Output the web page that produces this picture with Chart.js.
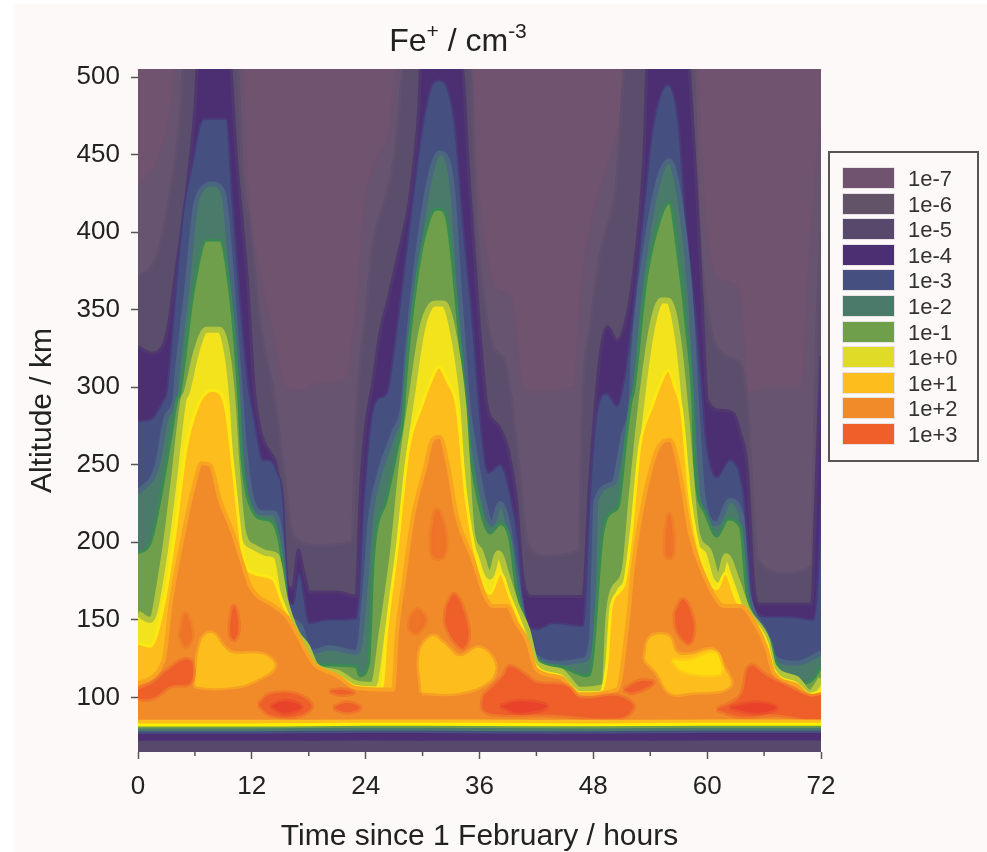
<!DOCTYPE html>
<html>
<head>
<meta charset="utf-8">
<title>Fe+ density</title>
<script src="https://cdn.jsdelivr.net/npm/chart.js@4"></script>
<style>
    html, body { margin: 0; padding: 0; background: #fff; }
    #page { position: absolute; left: 14px; top: 4px; width: 973px; height: 848px; background: #fdf9f8; }
    #wrap { position: absolute; left: 0; top: 0; width: 987px; height: 852px; font-family: "Liberation Sans", Arial, sans-serif; color: #222; }
    #plot { position: absolute; left: 0; top: 0; filter: blur(0.7px); }
    #title { position: absolute; left: 258px; width: 400px; top: 22px; text-align: center; font-size: 32px; line-height: 36px; }
    #title sup { font-size: 21px; line-height: 0; vertical-align: 13px; }
    #legend { position: absolute; left: 828px; top: 151px; width: 147px; height: 307px; border: 2px solid #555; }
    .row { position: absolute; left: 13px; width: 130px; height: 21px; }
    .row i { position: absolute; left: 0; top: 0; width: 51px; height: 20px; box-shadow: 0 0 0 1px #e9e3e6; }
    .row span { position: absolute; left: 65px; top: -2px; font-size: 22px; line-height: 25px; color: #333; }
</style>
</head>
<body>
<div id="page"></div>
<div id="wrap">
    <canvas id="plot" width="987" height="852"></canvas>
    <div id="title">Fe<sup>+</sup> / cm<sup>-3</sup></div>
    <div id="legend"></div>
</div>
<script>
const levelLabels = ["1e-7", "1e-6", "1e-5", "1e-4", "1e-3", "1e-2", "1e-1", "1e+0", "1e+1", "1e+2", "1e+3"];
const xTicks = [0, 6, 12, 18, 24, 30, 36, 42, 48, 54, 60, 66, 72];
const yTicks = [100, 150, 200, 250, 300, 350, 400, 450, 500];

// upper edge of each contour level, [hours, km]
const edge1em7 = [[0, 506], [72, 506]];
const edge1em6 = [[0, 430], [2, 445], [3.5, 480], [4.2, 520], [10.8, 520], [11.5, 430], [12.5, 382], [14, 340], [15.5, 300], [17, 298], [19, 302], [22, 305], [23, 350], [24, 420], [25, 445], [26.5, 465], [27.6, 520], [35, 520], [35.8, 430], [36.8, 382], [38, 362], [39.3, 358], [40.5, 300], [42, 297], [46, 300], [46.7, 360], [48, 412], [49.4, 440], [50.8, 470], [52, 520], [58.7, 520], [59.5, 430], [60.3, 382], [62, 368], [63.3, 362], [64.4, 296], [66.6, 300], [70, 300], [70.6, 360], [71.5, 440], [72, 470]];
const edge1em5 = [[0, 371], [2, 385], [3.4, 425], [4.4, 470], [5, 520], [10.3, 520], [11, 440], [11.8, 403], [12.9, 339], [14.3, 296], [15.3, 250], [16.3, 205], [19, 198], [22.5, 200], [23.1, 290], [24, 345], [24.8, 393], [26, 420], [27, 447], [28.4, 520], [34.8, 520], [35.7, 403], [36.4, 360], [37.5, 325], [38.6, 318], [39.4, 290], [40.3, 240], [41, 200], [43, 191], [46.5, 195], [46.8, 280], [47.7, 340], [48.7, 385], [50.4, 430], [51.6, 520], [58.4, 520], [59.1, 410], [60, 350], [62, 320], [63.5, 315], [64.2, 290], [64.8, 230], [65.3, 190], [68, 180], [71, 185], [71.5, 330], [72, 400]];
const edge1em4 = [[0, 326], [1.5, 322], [2.7, 328], [3.2, 340], [3.9, 371], [5.1, 425], [6, 480], [6.4, 520], [9.5, 520], [10.4, 446], [11.5, 371], [12.3, 296], [13, 270], [13.9, 258], [14.6, 249], [15.2, 215], [15.8, 172], [16.3, 170], [16.9, 195], [17.5, 180], [18.1, 168], [21, 168], [23, 165], [23.4, 227], [23.9, 270], [24.8, 305], [25.5, 335], [26.3, 355], [27.3, 382], [28.7, 425], [29.6, 480], [29.9, 520], [33.9, 520], [35, 425], [36, 339], [36.8, 288], [38, 275], [39, 260], [39.9, 227], [40.6, 176], [41.5, 165], [46.9, 165], [47.6, 238], [48.7, 320], [49.5, 339], [50.5, 330], [51.3, 340], [52.2, 371], [53.3, 446], [53.8, 520], [57.7, 520], [58.9, 425], [59.6, 339], [60, 292], [61.5, 285], [62.8, 283], [63.5, 270], [64.2, 249], [64.9, 174], [65.5, 160], [71, 160], [71.5, 240], [72, 320]];
const edge1em3 = [[0, 278], [1.5, 280], [2.7, 292], [3, 296], [4.1, 371], [4.8, 414], [5.8, 446], [6.6, 470], [7, 473], [9.3, 473], [9.9, 425], [10.7, 361], [11.5, 307], [12.2, 281], [13.2, 253], [13.9, 253], [14.6, 246], [15.3, 227], [15.8, 165], [16.3, 160], [17, 180], [17.5, 165], [18, 148], [20, 150], [23, 151], [23.8, 227], [24.5, 275], [25.2, 292], [26.2, 296], [27.3, 339], [28.7, 408], [30, 468], [31.1, 496], [31.8, 498], [32.7, 491], [33.4, 468], [34.3, 403], [35.3, 339], [36, 284], [36.9, 245], [38.2, 250], [39.2, 232], [40.1, 200], [40.8, 154], [42, 144], [43.8, 148], [46.9, 146], [47.6, 227], [48.3, 281], [49.4, 296], [50.5, 288], [51.3, 307], [52.2, 350], [53.3, 414], [54.3, 468], [55.9, 495], [57, 468], [57.8, 403], [58.9, 339], [59.6, 287], [59.8, 270], [61, 242], [62.4, 253], [63.8, 232], [64.5, 185], [64.9, 157], [66.3, 152], [68.7, 152], [71.2, 150], [71.9, 206], [72, 225]];
const edge1em2 = [[0, 232], [2, 249], [3, 281], [3.9, 292], [4.1, 307], [5.1, 361], [6.2, 421], [7.9, 431], [9, 425], [10, 361], [10.9, 288], [11.1, 270], [12, 228], [13.2, 219], [14.3, 219], [15.1, 202], [15.7, 159], [17.1, 146], [18.1, 129], [20.2, 132], [23, 129], [23.4, 135], [24, 175], [24.5, 215], [25.5, 245], [26.9, 270], [28, 292], [28.3, 318], [29.4, 382], [30.8, 436], [31.8, 451], [33, 436], [33.9, 361], [34.8, 288], [35.2, 270], [36.4, 228], [37.3, 212], [38.2, 225], [39, 212], [39.7, 185], [40.8, 146], [42, 126], [44.5, 122], [46.9, 124], [47.8, 137], [48.3, 227], [50.1, 238], [51.2, 270], [52, 292], [52.2, 318], [53.6, 393], [55, 436], [56, 446], [57, 425], [58.2, 361], [58.9, 288], [59.6, 228], [61, 212], [62.4, 227], [63.6, 217], [64.2, 172], [64.9, 155], [66.3, 140], [67, 126], [69.4, 122], [71.2, 126], [72, 129]];
const edge1em1 = [[0, 193], [1.3, 200], [2.3, 227], [3.5, 270], [4.1, 292], [4.4, 296], [5.8, 361], [7.2, 395], [8.6, 395], [9.7, 361], [10.6, 296], [10.9, 260], [12.2, 219], [13.2, 215], [14.3, 212], [15.3, 185], [15.8, 152], [18.1, 126], [19.2, 121], [23, 120], [23.4, 114], [24.3, 122], [24.8, 189], [26.2, 228], [27.3, 260], [28, 285], [28.1, 296], [29.4, 371], [30.8, 410], [31.7, 415], [32.5, 410], [33.8, 339], [34.6, 288], [35, 260], [36.2, 219], [37.1, 206], [38.2, 212], [39.2, 202], [39.9, 170], [41, 146], [42, 125], [44.5, 120], [47.3, 114], [47.8, 120], [48.9, 202], [49.8, 219], [50.6, 223], [51.5, 270], [52, 292], [52.2, 296], [53.6, 371], [55, 408], [56, 419], [57, 382], [57.8, 339], [58.5, 288], [58.7, 249], [59.8, 219], [61, 204], [62.2, 215], [63.5, 210], [64.2, 167], [65.2, 148], [66.6, 137], [67.3, 122], [70.1, 109], [71.2, 112], [72, 120]];
const edge1e0 = [[0, 154], [1.3, 150], [2.7, 189], [3.7, 236], [4.8, 292], [5.1, 296], [6.2, 324], [7.2, 337], [8.6, 337], [9.5, 318], [10, 288], [10.4, 249], [11.1, 206], [12.2, 197], [13.6, 193], [14.6, 191], [15.5, 163], [16.7, 142], [17.8, 133], [18.8, 120], [21, 116], [23, 109], [24.8, 108], [25.7, 142], [26.9, 195], [27.8, 249], [28.8, 292], [30, 339], [31.3, 354], [32.2, 354], [33.1, 339], [34.3, 288], [34.5, 270], [35.2, 206], [36, 195], [37.1, 178], [38, 193], [38.9, 178], [39.9, 159], [41, 144], [42, 122], [44.5, 117], [46.6, 105], [49.2, 107], [49.6, 152], [50.1, 169], [51.3, 182], [52, 227], [53.1, 292], [54.2, 339], [55.2, 356], [55.9, 356], [57, 328], [57.8, 280], [58.9, 206], [60.1, 195], [61.2, 176], [62, 191], [63.1, 176], [64.2, 157], [66.3, 137], [67, 120], [69.4, 112], [70.8, 103], [71.5, 107], [72, 112]];
const edge1e1 = [[0, 135], [1.3, 133], [2.7, 160], [3.9, 206], [5.1, 262], [6.3, 288], [7.3, 297], [7.9, 298], [8.7, 296], [9.3, 285], [10, 249], [11.1, 191], [12.2, 180], [14.3, 176], [15, 165], [16.7, 140], [18.5, 120], [21, 114], [23, 107], [25.7, 106], [26.2, 142], [27.3, 195], [28.5, 260], [29.9, 288], [30.8, 303], [31.7, 313], [32.7, 303], [33.6, 288], [34.6, 228], [35.7, 189], [37.1, 167], [38.2, 180], [39.2, 165], [40.6, 144], [42, 120], [44.5, 114], [46.6, 103], [48.7, 103], [49.4, 120], [49.9, 159], [51.2, 172], [52, 206], [52.9, 262], [54.2, 288], [55.1, 303], [55.9, 311], [56.6, 300], [57.3, 285], [58.2, 228], [59.4, 189], [61, 170], [61.9, 180], [63.1, 163], [64.2, 154], [66.3, 135], [67, 118], [69.4, 109], [70.8, 102], [72, 104]];
const edge1e2 = [[0, 109], [2.7, 124], [3.5, 163], [4.8, 206], [5.8, 234], [6.7, 251], [7.6, 250], [8.6, 228], [10, 206], [11.1, 185], [11.8, 172], [14.3, 159], [15.7, 152], [17.1, 137], [18.5, 122], [21, 114], [23, 106], [26.9, 105], [27.3, 142], [28, 174], [29, 217], [30.3, 249], [31, 266], [31.8, 268], [32.7, 249], [33.6, 217], [35.3, 189], [36.6, 165], [37.4, 159], [38.9, 159], [39.9, 148], [41, 137], [42, 118], [44.5, 113], [46.6, 102], [50.5, 105], [51.5, 142], [52.2, 185], [53.3, 227], [54.9, 262], [56.1, 266], [57, 249], [58.2, 206], [59.6, 180], [61, 163], [61.7, 159], [63.5, 159], [65.2, 146], [66.3, 131], [67, 116], [69.4, 108], [70.8, 101], [72, 102]];

// closed patches that sit inside the 1e+2 band
const patches1e1 = [
    [[6, 111.5], [6.7, 137], [7.8, 141.6], [9, 133], [9.9, 128.7], [13.2, 127.6], [14.4, 120], [12.5, 111.5], [10.4, 107], [6.2, 107]],
    [[29.9, 103], [29.7, 129], [31, 139.5], [32.2, 135], [33.9, 126.5], [36, 132], [37.6, 122], [37.1, 111], [33.9, 103]],
    [[53.4, 124.4], [54, 138.4], [55.9, 139.5], [56.8, 128.7], [58.2, 127.6], [60.6, 130.8], [61.5, 122.3], [62.4, 107.2], [58.2, 103], [56.1, 103], [54.7, 115.8]],
];
const patches1e0 = [
    [[56.3, 124], [58.2, 124], [60.8, 128.7], [61.5, 120], [61.2, 114.8], [57.5, 116.9]],
];
const patchesWarm = [
    [[4.4, 140], [5, 154], [5.7, 140], [5, 133]],
    [[28.7, 152], [29.5, 156.6], [30.3, 150.2], [29.5, 141.6], [28.7, 143.7]],
    [[30.9, 206], [31.5, 221], [32.4, 206], [32.2, 191], [31.1, 191]],
    [[55.6, 205], [56, 218], [56.4, 205], [56.3, 191], [55.7, 191]],
];
const patches1e3 = [
    [[0, 105], [1.6, 109.4], [3, 116.9], [4.9, 124.4], [5.7, 122.3], [5.5, 109.4], [3.4, 107.2], [1.6, 99.7], [0, 99.7]],
    [[12.7, 95.4], [13.9, 101.9], [16.7, 101.9], [18.3, 94.3], [16.7, 87.9], [13.9, 89]],
    [[20.6, 93.3], [22, 96.5], [23.4, 93.3], [22, 90.5]],
    [[20.2, 104], [21.6, 105], [22.7, 103], [21.3, 102]],
    [[9.7, 146], [10.1, 158.8], [10.6, 146], [10.2, 137.3], [9.8, 139.4]],
    [[32.5, 158.8], [33.4, 166.3], [34.6, 150.2], [34.8, 137.3], [34.1, 131.9], [32.5, 145.9]],
    [[36.4, 101], [38.5, 113.7], [39.2, 120], [41, 113.7], [42, 109.4], [45.2, 107.2], [46.6, 99.7], [50.5, 100.8], [52.2, 94.3], [50.8, 86.8], [43.1, 89], [38.2, 89], [36.4, 92.2]],
    [[56.6, 154.5], [57.5, 163], [58.5, 150], [58.5, 139.5], [58, 135], [56.8, 143.7]],
    [[51.2, 105], [52.9, 110.5], [54.3, 109.4], [52.2, 103]],
    [[61, 92.2], [63.5, 100.8], [64.5, 120], [66.3, 113.7], [67.7, 109.4], [70.8, 100.8], [72.5, 100.8], [72.5, 85.8], [67.3, 89], [63.5, 87.9]],
];
const patchesCore = [
    [[14, 94.5], [15.5, 97.5], [17.2, 94], [15.5, 90]],
    [[38.2, 94.3], [40.3, 97.6], [43.1, 94.3], [40.3, 90]],
    [[62.4, 93.3], [65.2, 96.5], [67.3, 93.3], [65.2, 90]],
];

// thin layers under the 80 km sheet, top edge of each
const baseTime = [0, 12, 24, 36, 48, 60, 72];
const base1e1 = [85.6, 85.6, 85.8, 85.8, 85.6, 85.8, 85.8];
const base1e0 = [83.2, 83.2, 83.6, 83.6, 83.2, 83.6, 83.6];
const base1em1 = [81.2, 81.2, 81.8, 81.6, 81.4, 81.8, 81.8];
const base1em2 = [80, 80, 80.4, 80.2, 80, 80.4, 80.4];
const base1em3 = [78.2, 78.2, 78.6, 78.4, 78.2, 78.6, 78.6];
const base1em4 = [76.6, 76.6, 77, 76.8, 76.6, 77, 77];
const base1em5 = [72, 72, 72.2, 72, 72, 72.2, 72.2];

const levelColors = ["#70536f", "#635369", "#57496c", "#4c2f73", "#465080", "#4a7a6a", "#6f9f4a", "#dfdb26", "#fdbd1c", "#f18a29", "#ee5f2a"];

function edgeSet(points, fillColor, lineColor, lineWidth) {
    return {
        data: points,
        fill: "start",
        backgroundColor: fillColor,
        borderColor: lineColor,
        borderWidth: lineWidth,
        cubicInterpolationMode: "monotone",
    };
}

function patchSet(points, fillColor) {
    return {
        data: points.concat([points[0]]),
        fill: "shape",
        backgroundColor: fillColor,
        borderColor: fillColor + "73",
        borderWidth: 5,
        tension: 0.4,
    };
}

function baseSet(values, fillColor) {
    return edgeSet(values.map((v, i) => [baseTime[i], v]), fillColor, fillColor, 0);
}

const layers = [
    edgeSet(edge1em7, levelColors[0], levelColors[0], 0),
    edgeSet(edge1em6, "#675470", "#6b5370", 3),
    edgeSet(edge1em5, "#5b4d6c", "#604f6d", 3),
    edgeSet(edge1em4, levelColors[3], "#50386f", 3),
    edgeSet(edge1em3, levelColors[4], "#483b7a", 2),
    edgeSet(edge1em2, levelColors[5], "#4a6680", 5),
    edgeSet(edge1em1, levelColors[6], "#3a8a55", 3),
    edgeSet(edge1e0, "#f3e31c", "#b2c43a", 6),
    edgeSet(edge1e1, levelColors[8], "#fde812", 3),
    edgeSet(edge1e2, levelColors[9], "#f8a322", 4),
]
    .concat(patchesWarm.map((p) => patchSet(p, "#ee7428")))
    .concat(patches1e1.map((p) => patchSet(p, levelColors[8])))
    .concat(patches1e0.map((p) => patchSet(p, "#fedc10")))
    .concat(patches1e3.map((p) => patchSet(p, levelColors[10])))
    .concat(patchesCore.map((p) => patchSet(p, "#e8432a")))
    .concat([
        baseSet(base1e1, levelColors[8]),
        baseSet(base1e0, "#fff000"),
        baseSet(base1em1, levelColors[6]),
        baseSet(base1em2, levelColors[5]),
        baseSet(base1em3, levelColors[4]),
        baseSet(base1em4, levelColors[3]),
        baseSet(base1em5, levelColors[2]),
    ]);

// chart.js draws the lowest order last, so the first layer has to get the highest
layers.forEach((layer, i) => {
    layer.order = layers.length - i;
});

const shortTicks = {
    id: "shortTicks",
    afterDraw(chart) {
        const ctx = chart.ctx;
        const scale = chart.scales.x;
        ctx.save();
        ctx.strokeStyle = "#555";
        ctx.lineWidth = 1.5;
        xTicks.filter((v) => v % 12 !== 0).forEach((v) => {
            const px = scale.getPixelForValue(v);
            ctx.beginPath();
            ctx.moveTo(px, scale.top);
            ctx.lineTo(px, scale.top + 4);
            ctx.stroke();
        });
        ctx.restore();
    },
};

new Chart(document.getElementById("plot").getContext("2d"), {
    type: "line",

    data: {
        datasets: layers,
    },

    plugins: [shortTicks],

    options: {
        responsive: false,

        animation: false,

        elements: {
            point: {
                radius: 0,
            },
        },

        layout: {
            padding: {
                left: 14,
                right: 166,
                top: 69,
                bottom: 0,
            },
        },

        scales: {
            x: {
                type: "linear",
                min: 0,
                max: 72,
                afterBuildTicks(scale) {
                    scale.ticks = xTicks.map((value) => ({ value }));
                },
                afterFit(scale) {
                    scale.height = 100;
                },
                border: {
                    display: false,
                },
                grid: {
                    drawOnChartArea: false,
                    tickLength: 7,
                    tickWidth: 1.5,
                    tickColor: (ctx) => (ctx.tick && ctx.tick.value % 12 === 0 ? "#555" : "rgba(0,0,0,0)"),
                },
                ticks: {
                    maxRotation: 0,
                    autoSkip: false,
                    padding: 12,
                    color: "#222",
                    font: { family: "Liberation Sans", size: 26 },
                    callback: (v) => (v % 12 === 0 ? String(v) : ""),
                },
                title: {
                    display: true,
                    text: "Time since 1 February / hours",
                    color: "#222",
                    padding: { top: 8, bottom: 0 },
                    font: { family: "Liberation Sans", size: 30, lineHeight: 1.05 },
                },
            },
            y: {
                min: 64.8,
                max: 505.2,
                afterBuildTicks(scale) {
                    scale.ticks = yTicks.map((value) => ({ value }));
                },
                afterFit(scale) {
                    scale.width = 124;
                },
                border: {
                    display: false,
                },
                grid: {
                    drawOnChartArea: false,
                    tickLength: 7,
                    tickWidth: 1.5,
                    tickColor: "#555",
                },
                ticks: {
                    padding: 11,
                    color: "#222",
                    font: { family: "Liberation Sans", size: 26 },
                },
                title: {
                    display: true,
                    text: "Altitude / km",
                    color: "#222",
                    padding: { top: 11, bottom: 0 },
                    font: { family: "Liberation Sans", size: 30 },
                },
            },
        },

        plugins: {
            legend: {
                display: false,
            },
            tooltip: {
                enabled: false,
            },
        },
    },
});

const legendBox = document.getElementById("legend");
levelLabels.forEach((label, i) => {
    const row = document.createElement("div");
    row.className = "row";
    row.style.top = 15 + i * 25.6 + "px";
    row.innerHTML = '<i style="background:' + levelColors[i] + '"></i><span>' + label + "</span>";
    legendBox.appendChild(row);
});
</script>
</body>
</html>
